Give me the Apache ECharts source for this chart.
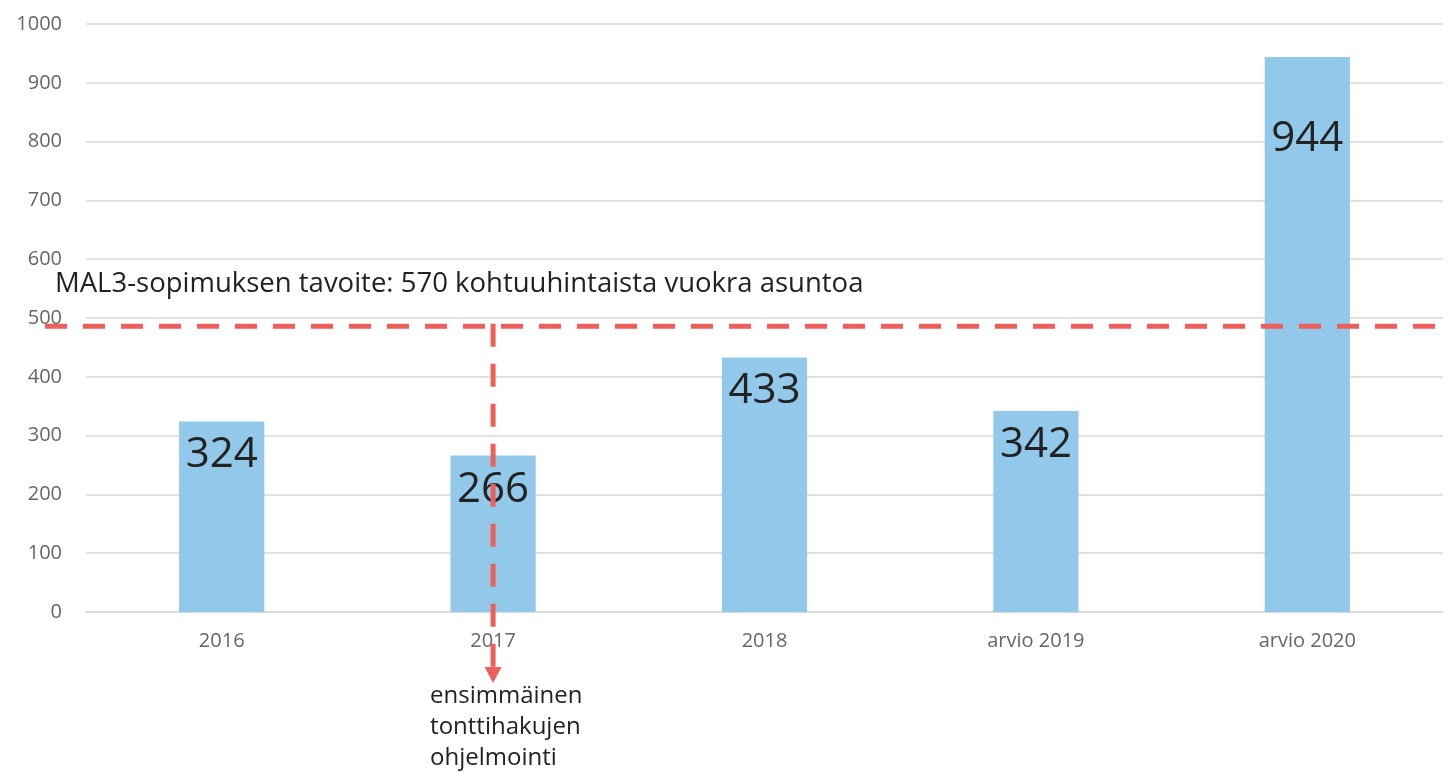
<!DOCTYPE html>
<html>
<head>
<meta charset="utf-8">
<script src="https://cdn.jsdelivr.net/npm/echarts@6/dist/echarts.min.js"></script>
<style>
html,body{margin:0;padding:0;background:#fff;}
#chart{width:1455px;height:772px;}
</style>
</head>
<body>
<div id="chart"></div>
<script>
const categories = ['2016', '2017', '2018', 'arvio 2019', 'arvio 2020'];
const values = [324, 266, 433, 342, 944];
const yTicks = [0, 100, 200, 300, 400, 500, 600, 700, 800, 900, 1000];
const targetLevel = 486;
const targetText = 'MAL3-sopimuksen tavoite: 570 kohtuuhintaista vuokra asuntoa';
const arrowCategory = '2017';
const arrowText = ['ensimmäinen', 'tonttihakujen', 'ohjelmointi'];

const FONT = '"Open Sans", "Noto Sans", sans-serif';
const RED = '#ec5f5a';

const chart = echarts.init(document.getElementById('chart'), null, {renderer: 'canvas'});

const option = {
  animation: false,
  grid: {left: 86, right: 12, top: 24, bottom: 160, containLabel: false},
  xAxis: {
    type: 'category',
    data: categories,
    axisLine: {show: true, lineStyle: {color: '#d9d9d9', width: 1.5}},
    axisTick: {show: false},
    axisLabel: {color: '#666666', fontSize: 20, fontFamily: FONT, margin: 19}
  },
  yAxis: {
    type: 'value',
    min: yTicks[0],
    max: yTicks[yTicks.length - 1],
    interval: 100,
    axisLine: {show: false},
    axisTick: {show: false},
    splitLine: {lineStyle: {color: '#d9d9d9', width: 1.5}},
    axisLabel: {color: '#666666', fontSize: 20, fontFamily: FONT, margin: 24,
      formatter: v => String(v)}
  },
  series: [{
    type: 'bar',
    barWidth: '31.4%',
    itemStyle: {color: '#92c9ea'},
    data: values.map((v, i) => ({
      value: v,
      label: i === values.length - 1 ? {distance: 61} : {}
    })),
    label: {
      show: true,
      position: 'insideTop',
      distance: 13,
      color: '#222222',
      fontSize: 42,
      fontFamily: FONT
    },
    z: 2
  }]
};
chart.setOption(option);

function addGraphics() {
  const y = chart.convertToPixel({yAxisIndex: 0}, targetLevel);
  const x0 = chart.convertToPixel({xAxisIndex: 0}, arrowCategory);
  const gridRight = 1455 - 12;
  const yBase = chart.convertToPixel({yAxisIndex: 0}, 0);
  const arrowTip = yBase + 71;
  const els = [
    {
      type: 'line', z: 10,
      shape: {x1: 45, y1: y, x2: gridRight, y2: y},
      style: {stroke: RED, lineWidth: 5, lineDash: [22, 16]}
    },
    {
      type: 'line', z: 10,
      shape: {x1: x0, y1: y - 2.5, x2: x0, y2: arrowTip - 15},
      style: {stroke: RED, lineWidth: 5, lineDash: [23, 17]}
    },
    {
      type: 'polygon', z: 10,
      shape: {points: [[x0 - 8.5, arrowTip - 16], [x0 + 8.5, arrowTip - 16], [x0, arrowTip]]},
      style: {fill: RED}
    },
    {
      type: 'text', z: 11,
      x: 55, y: y - 56,
      style: {text: targetText, fill: '#222222', font: '27.5px ' + FONT}
    }
  ];
  arrowText.forEach((t, i) => {
    els.push({
      type: 'text', z: 11,
      x: x0 - 63, y: arrowTip + 1 + i * 31,
      style: {text: t, fill: '#222222', font: '24px ' + FONT}
    });
  });
  chart.setOption({graphic: els});
}
addGraphics();
</script>
</body>
</html>
